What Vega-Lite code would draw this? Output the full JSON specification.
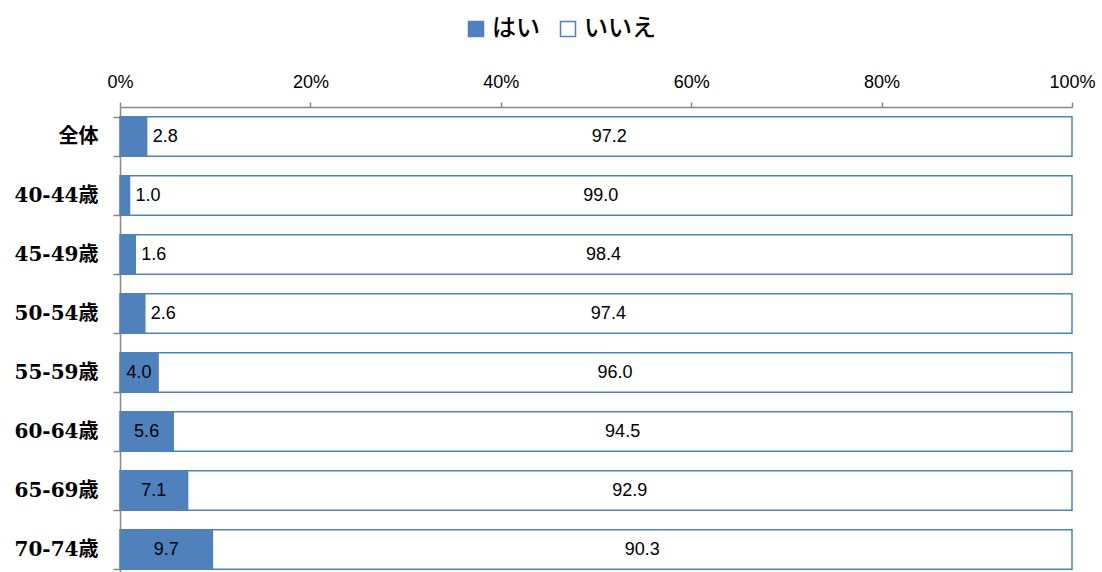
{
  "$schema": "https://vega.github.io/schema/vega-lite/v6.json",
  "width": 952,
  "height": 472,
  "autosize": {"type": "none"},
  "padding": {"left": 120, "top": 107, "right": 30, "bottom": 0},
  "background": "white",
  "config": {"view": {"stroke": null}, "font": "Liberation Sans"},
  "data": {"values": [
    {"group": "全体", "answer": "はい", "value": 2.8},
    {"group": "全体", "answer": "いいえ", "value": 97.2},
    {"group": "40-44歳", "answer": "はい", "value": 1.0},
    {"group": "40-44歳", "answer": "いいえ", "value": 99.0},
    {"group": "45-49歳", "answer": "はい", "value": 1.6},
    {"group": "45-49歳", "answer": "いいえ", "value": 98.4},
    {"group": "50-54歳", "answer": "はい", "value": 2.6},
    {"group": "50-54歳", "answer": "いいえ", "value": 97.4},
    {"group": "55-59歳", "answer": "はい", "value": 4.0},
    {"group": "55-59歳", "answer": "いいえ", "value": 96.0},
    {"group": "60-64歳", "answer": "はい", "value": 5.6},
    {"group": "60-64歳", "answer": "いいえ", "value": 94.5},
    {"group": "65-69歳", "answer": "はい", "value": 7.1},
    {"group": "65-69歳", "answer": "いいえ", "value": 92.9},
    {"group": "70-74歳", "answer": "はい", "value": 9.7},
    {"group": "70-74歳", "answer": "いいえ", "value": 90.3}
  ]},
  "transform": [
    {"stack": "value", "groupby": ["group"], "sort": [{"field": "answer", "order": "descending"}], "offset": "normalize", "as": ["x0", "x1"]},
    {"calculate": "(datum.x0 + datum.x1) / 2", "as": "xm"}
  ],
  "encoding": {
    "y": {
      "field": "group",
      "type": "nominal",
      "sort": ["全体", "40-44歳", "45-49歳", "50-54歳", "55-59歳", "60-64歳", "65-69歳", "70-74歳"],
      "scale": {"paddingInner": 0.33, "paddingOuter": 0.165},
      "axis": {
        "title": null,
        "labelFont": "DejaVu Serif, Noto Sans CJK JP",
        "labelFontWeight": "bold",
        "labelFontSize": 20,
        "labelColor": "#000000",
        "labelPadding": 15,
        "domainColor": "#888888",
        "domainWidth": 1.5,
        "tickColor": "#888888",
        "tickWidth": 1.5,
        "tickSize": 7,
        "tickBand": "extent"
      }
    }
  },
  "layer": [
    {
      "mark": {"type": "bar", "stroke": "#4F81BD", "strokeWidth": 1.5},
      "encoding": {
        "x": {
          "field": "x0",
          "type": "quantitative",
          "scale": {"domain": [0, 1], "nice": false},
          "axis": {
            "orient": "top",
            "title": null,
            "format": ".0%",
            "values": [0, 0.2, 0.4, 0.6, 0.8, 1],
            "labelFlush": false,
            "labelFontSize": 18,
            "labelColor": "#000000",
            "labelPadding": 11,
            "grid": false,
            "domainColor": "#888888",
            "domainWidth": 1.5,
            "tickColor": "#888888",
            "tickWidth": 1.5,
            "tickSize": 5
          }
        },
        "x2": {"field": "x1"},
        "fill": {
          "field": "answer",
          "type": "nominal",
          "scale": {"domain": ["はい", "いいえ"], "range": ["#4F81BD", "#FFFFFF"]},
          "legend": {
            "title": null,
            "orient": "none",
            "direction": "horizontal",
            "legendX": 344,
            "legendY": -90,
            "symbolType": "square",
            "symbolSize": 225,
            "symbolStrokeColor": "#4F81BD",
            "symbolStrokeWidth": 1.5,
            "labelFont": "Noto Sans CJK JP",
            "labelFontSize": 24,
            "labelFontWeight": 500,
            "labelColor": "#000000",
            "labelOffset": 4,
            "columnPadding": 16
          }
        }
      }
    },
    {
      "transform": [{"filter": "datum.answer == 'いいえ' || datum.value >= 3.5"}],
      "mark": {"type": "text", "fontSize": 18, "color": "#000000"},
      "encoding": {
        "x": {"field": "xm", "type": "quantitative"},
        "text": {"field": "value", "type": "quantitative", "format": ".1f"}
      }
    },
    {
      "transform": [{"filter": "datum.answer == 'はい' && datum.value < 3.5"}],
      "mark": {"type": "text", "fontSize": 18, "color": "#000000", "align": "left", "dx": 6},
      "encoding": {
        "x": {"field": "x1", "type": "quantitative"},
        "text": {"field": "value", "type": "quantitative", "format": ".1f"}
      }
    }
  ]
}
